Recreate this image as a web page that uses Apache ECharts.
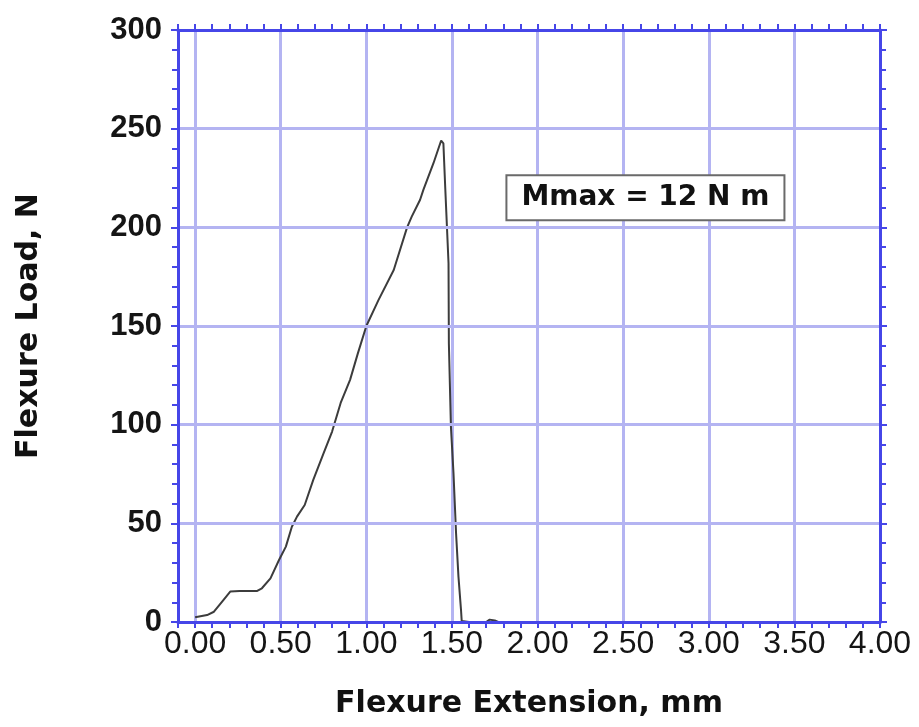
<!DOCTYPE html>
<html>
<head>
<meta charset="utf-8">
<title>Flexure test</title>
<script src="https://cdn.jsdelivr.net/npm/echarts@6/dist/echarts.min.js"></script>
<style>
  html, body { margin: 0; padding: 0; background: #fff; }
  #chart { width: 919px; height: 727px; }
</style>
</head>
<body>
<div id="chart"></div>
<script>
// flexure extension (mm) and load (N)
const extension = [0.00, 0.07, 0.11, 0.165, 0.205, 0.26, 0.36, 0.39, 0.44, 0.49,
  0.53, 0.565, 0.595, 0.64, 0.69, 0.75, 0.80, 0.85, 0.905, 0.95,
  1.00, 1.07, 1.16, 1.238, 1.265, 1.314, 1.333, 1.392, 1.437, 1.45,
  1.461, 1.48, 1.482, 1.494, 1.509, 1.524, 1.538, 1.553, 1.557, 1.60,
  1.70, 1.72, 1.75, 1.77];
const load = [2.4, 3.5, 5.2, 11.1, 15.4, 15.7, 15.7, 17.1, 22.1, 31.4,
  38.2, 48.3, 53.4, 59.3, 72, 85.5, 96.5, 111, 122.7, 136,
  150, 163, 178.4, 200, 205.4, 214, 219, 232.5, 244, 242.6,
  219.7, 181.8, 141.3, 99, 75.4, 45, 23, 6, 0.5, 0,
  0, 1.2, 0.8, 0];
const annotationText = 'Mmax = 12 N m';

const axisBlue = '#4646e8';
const gridBlue = '#b4b4f2';

const points = extension.map((x, i) => [x, load[i]]);

function isMajor(v) {
  const k = v / 0.5;
  return v >= -1e-9 && Math.abs(k - Math.round(k)) < 1e-6;
}

const chart = echarts.init(document.getElementById('chart'), null, { renderer: 'canvas' });

const option = {
  backgroundColor: '#ffffff',
  animation: false,
  grid: { left: 178, right: 39, top: 30, bottom: 105 },
  xAxis: [
    { // bottom: ticks every 0.1, labels every 0.5
      type: 'value', position: 'bottom', min: -0.1, max: 4, interval: 0.1,
      name: 'Flexure Extension, mm', nameLocation: 'middle', nameGap: 67,
      nameTextStyle: { fontFamily: 'DejaVu Sans', fontWeight: 'bold', fontSize: 30, color: '#111' },
      axisLine: { onZero: false, lineStyle: { color: axisBlue, width: 3 } },
      axisTick: { show: true, length: 6, lineStyle: { color: axisBlue, width: 2 } },
      axisLabel: {
        margin: 6, fontFamily: 'Liberation Sans', fontSize: 32, color: '#151515',
        formatter: v => isMajor(v) ? Math.abs(v).toFixed(2) : ''
      },
      splitLine: { show: false },
      z: 3
    },
    { // top frame
      type: 'value', position: 'top', min: -0.1, max: 4, interval: 0.1,
      axisLine: { onZero: false, lineStyle: { color: axisBlue, width: 3 } },
      axisTick: { show: true, length: 6, lineStyle: { color: axisBlue, width: 2 } },
      axisLabel: { show: false },
      splitLine: { show: false },
      z: 3
    },
    { // vertical grid lines every 0.5
      type: 'value', position: 'bottom', min: -0.1, max: 4, splitNumber: 8,
      axisLine: { show: false }, axisTick: { show: false }, axisLabel: { show: false },
      splitLine: { show: true, lineStyle: { color: gridBlue, width: 3 } },
      z: 1
    }
  ],
  yAxis: [
    {
      type: 'value', position: 'left', min: 0, max: 300, interval: 50,
      name: 'Flexure Load, N', nameLocation: 'middle', nameGap: 134, nameRotate: 90,
      nameTextStyle: { fontFamily: 'DejaVu Sans', fontWeight: 'bold', fontSize: 30, color: '#111' },
      axisLine: { show: true, onZero: false, lineStyle: { color: axisBlue, width: 3 } },
      axisTick: { show: true, length: 7, lineStyle: { color: axisBlue, width: 2 } },
      minorTick: { show: true, splitNumber: 5, length: 6, lineStyle: { color: axisBlue, width: 2 } },
      axisLabel: {
        margin: 16, fontFamily: 'Liberation Sans', fontWeight: 'bold', fontSize: 31,
        color: '#151515', padding: [0, 0, 11, 0]
      },
      splitLine: { show: true, lineStyle: { color: gridBlue, width: 3 } },
      z: 3
    },
    {
      type: 'value', position: 'right', min: 0, max: 300, interval: 50,
      axisLine: { show: true, onZero: false, lineStyle: { color: axisBlue, width: 3 } },
      axisTick: { show: true, length: 7, lineStyle: { color: axisBlue, width: 2 } },
      minorTick: { show: true, splitNumber: 5, length: 6, lineStyle: { color: axisBlue, width: 2 } },
      axisLabel: { show: false },
      splitLine: { show: false },
      z: 3
    }
  ],
  series: [{
    type: 'line',
    data: points,
    xAxisIndex: 0,
    yAxisIndex: 0,
    showSymbol: false,
    smooth: false,
    lineStyle: { color: '#3c3c3c', width: 2 },
    z: 2,
    markPoint: {
      symbol: 'rect',
      symbolSize: 1,
      itemStyle: { color: 'rgba(0,0,0,0)' },
      label: {
        show: true, position: 'inside',
        formatter: annotationText,
        fontFamily: 'DejaVu Sans', fontWeight: 'bold', fontSize: 28, color: '#111',
        backgroundColor: '#ffffff', borderColor: '#6a6a6a', borderWidth: 2,
        padding: [8, 14, 7, 14]
      },
      data: [{ coord: [2.63, 215] }]
    }
  }]
};

chart.setOption(option);
</script>
</body>
</html>
